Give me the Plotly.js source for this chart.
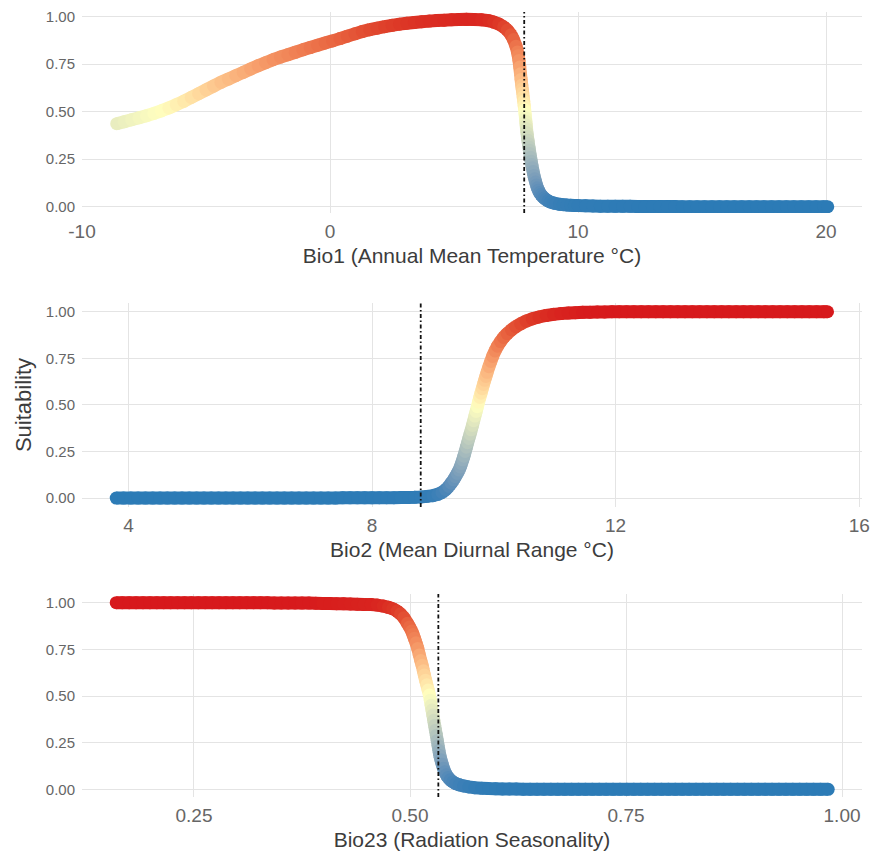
<!DOCTYPE html>
<html>
<head>
<meta charset="utf-8">
<script src="https://cdn.plot.ly/plotly-3.0.1.min.js"></script>
<style>html,body{margin:0;padding:0;background:#fff;}#chart{width:871px;height:854px;}</style>
</head>
<body>
<div id="chart"></div>
<script>
// ---------- DATA ----------
const bio1X = [
  -8.6,-8.3,-8.0,-7.7,-7.4,-7.1,-6.8,-6.5,-6.2,-5.9,
  -5.6,-5.3,-5.0,-4.7,-4.4,-4.1,-3.8,-3.5,-3.2,-2.9,
  -2.6,-2.3,-2.0,-1.7,-1.4,-1.1,-0.8,-0.5,-0.2,0.1,
  0.4,0.7,1.0,1.3,1.6,1.9,2.2,2.5,2.8,3.1,
  3.4,3.7,4.0,4.3,4.6,4.9,5.2,5.5,5.8,6.1,
  6.4,6.6,6.8,7.0,7.15,7.3,7.4,7.5,7.56,7.59,
  7.62,7.65,7.68,7.705,7.73,7.75,7.77,7.79,7.81,7.83,
  7.85,7.865,7.88,7.895,7.91,7.925,7.94,7.96,7.98,8.0,
  8.02,8.04,8.06,8.085,8.11,8.135,8.16,8.19,8.22,8.255,
  8.29,8.325,8.36,8.4,8.45,8.5,8.56,8.63,8.7,8.79,
  8.88,9.0,9.1,9.25,9.4,9.55,9.7,9.85,10.0,10.3,
  10.6,10.9,11.2,11.5,11.8,12.1,12.4,12.7,13.0,13.3,
  13.6,13.9,14.2,14.5,14.8,15.1,15.4,15.7,16.0,16.3,
  16.6,16.9,17.2,17.5,17.8,18.1,18.4,18.7,19.0,19.3,
  19.6,19.9,20.07];
const bio1S = [
  0.437,0.447,0.458,0.468,0.479,0.491,0.505,0.52,0.537,0.555,
  0.575,0.595,0.615,0.635,0.655,0.672,0.69,0.707,0.725,0.742,
  0.758,0.774,0.788,0.80,0.813,0.826,0.838,0.85,0.862,0.873,
  0.885,0.898,0.91,0.922,0.932,0.94,0.948,0.955,0.961,0.966,
  0.97,0.974,0.977,0.98,0.982,0.984,0.986,0.987,0.986,0.984,
  0.979,0.972,0.962,0.947,0.93,0.905,0.88,0.845,0.815,0.795,
  0.77,0.735,0.70,0.67,0.64,0.62,0.60,0.578,0.555,0.532,
  0.51,0.49,0.47,0.45,0.43,0.41,0.39,0.37,0.35,0.332,
  0.315,0.297,0.28,0.26,0.24,0.222,0.205,0.185,0.165,0.147,
  0.13,0.115,0.10,0.087,0.075,0.064,0.055,0.046,0.038,0.031,
  0.025,0.02,0.017,0.013,0.011,0.009,0.008,0.007,0.006,0.005,
  0.004,0.003,0.003,0.002,0.002,0.002,0.001,0.001,0.001,0.001,
  0.001,0.001,0,0,0,0,0,0,0,0,
  0,0,0,0,0,0,0,0,0,0,
  0,0,0];

const bio2X = [
  3.8,3.92,4.04,4.16,4.28,4.4,4.52,4.64,4.76,4.88,
  5.0,5.12,5.24,5.36,5.48,5.6,5.72,5.84,5.96,6.08,
  6.2,6.32,6.44,6.56,6.68,6.8,6.92,7.04,7.16,7.28,
  7.4,7.52,7.64,7.76,7.88,8.0,8.12,8.24,8.36,8.48,
  8.6,8.7,8.8,8.9,9.0,9.08,9.15,9.21,9.26,9.3,
  9.34,9.37,9.4,9.43,9.45,9.47,9.49,9.51,9.53,9.55,
  9.57,9.59,9.61,9.63,9.65,9.67,9.69,9.71,9.73,9.75,
  9.77,9.79,9.81,9.83,9.85,9.87,9.89,9.92,9.95,9.98,
  10.02,10.06,10.11,10.16,10.22,10.29,10.36,10.44,10.53,10.63,
  10.74,10.86,10.98,11.1,11.22,11.34,11.46,11.58,11.7,11.82,
  11.94,12.06,12.18,12.3,12.42,12.54,12.66,12.78,12.9,13.02,
  13.14,13.26,13.38,13.5,13.62,13.74,13.86,13.98,14.1,14.22,
  14.34,14.46,14.58,14.7,14.82,14.94,15.06,15.18,15.3,15.42,
  15.48];
const bio2S = [
  0,0,0,0,0,0,0,0,0,0,
  0,0,0,0,0,0,0,0,0,0,
  0,0,0,0,0,0,0,0,0,0,
  0,0.001,0.001,0.001,0.001,0.001,0.002,0.002,0.002,0.003,
  0.003,0.004,0.006,0.009,0.013,0.02,0.03,0.045,0.062,0.08,
  0.098,0.115,0.132,0.15,0.167,0.185,0.205,0.225,0.25,0.273,
  0.297,0.32,0.343,0.366,0.39,0.415,0.44,0.465,0.49,0.515,
  0.54,0.563,0.587,0.61,0.632,0.653,0.675,0.705,0.733,0.76,
  0.79,0.815,0.84,0.862,0.883,0.903,0.92,0.935,0.95,0.962,
  0.972,0.98,0.986,0.99,0.993,0.995,0.997,0.998,0.999,0.999,
  1,1,1,1,1,1,1,1,1,1,
  1,1,1,1,1,1,1,1,1,1,
  1,1,1,1,1,1,1,1,1,1,
  1];

const bio23X = [
  0.16,0.167,0.175,0.183,0.191,0.199,0.207,0.215,0.223,0.231,
  0.239,0.247,0.255,0.263,0.271,0.279,0.287,0.295,0.303,0.311,
  0.319,0.327,0.335,0.343,0.351,0.359,0.367,0.375,0.383,0.391,
  0.399,0.407,0.415,0.423,0.431,0.439,0.447,0.455,0.462,0.469,
  0.475,0.48,0.485,0.489,0.493,0.497,0.4995,0.502,0.5035,0.505,
  0.507,0.509,0.5108,0.5125,0.514,0.5155,0.5166,0.518,0.5195,0.521,
  0.5224,0.5235,0.5245,0.5255,0.5265,0.5275,0.5285,0.5295,0.5305,0.5315,
  0.5325,0.5335,0.5345,0.5358,0.5372,0.5387,0.5403,0.542,0.544,0.5465,
  0.5495,0.553,0.557,0.562,0.568,0.575,0.583,0.591,0.599,0.607,
  0.615,0.623,0.631,0.639,0.647,0.655,0.663,0.671,0.679,0.687,
  0.695,0.703,0.711,0.719,0.727,0.735,0.743,0.751,0.759,0.767,
  0.775,0.783,0.791,0.799,0.807,0.815,0.823,0.831,0.839,0.847,
  0.855,0.863,0.871,0.879,0.887,0.895,0.903,0.911,0.919,0.927,
  0.935,0.943,0.951,0.959,0.967,0.975,0.984];
const bio23S = [
  1,1,1,1,1,1,1,1,1,1,
  1,1,1,1,1,1,1,1,1,1,
  1,1,1,0.999,0.999,0.999,0.999,0.998,0.998,0.997,
  0.996,0.996,0.995,0.994,0.993,0.992,0.991,0.99,0.987,0.982,
  0.975,0.968,0.955,0.94,0.92,0.89,0.87,0.848,0.83,0.81,
  0.785,0.755,0.72,0.69,0.665,0.635,0.612,0.585,0.56,0.532,
  0.505,0.478,0.45,0.425,0.398,0.37,0.343,0.316,0.29,0.262,
  0.235,0.208,0.182,0.158,0.135,0.113,0.094,0.078,0.064,0.051,
  0.04,0.031,0.024,0.018,0.013,0.009,0.006,0.004,0.003,0.002,
  0.002,0.002,0.001,0.001,0.001,0.001,0.001,0,0,0,
  0,0,0,0,0,0,0,0,0,0,
  0,0,0,0,0,0,0,0,0,0,
  0,0,0,0,0,0,0,0,0,0,
  0,0,0,0,0,0,0];

const thresholds = [7.83, 8.80, 0.5328];

const xTitles = ["Bio1 (Annual Mean Temperature °C)", "Bio2 (Mean Diurnal Range °C)", "Bio23 (Radiation Seasonality)"];
const yTitle = "Suitability";
const xTickVals = [[-10, 0, 10, 20], [4, 8, 12, 16], [0.25, 0.5, 0.75, 1.0]];
const xTickText = [["-10", "0", "10", "20"], ["4", "8", "12", "16"], ["0.25", "0.50", "0.75", "1.00"]];
const yTickVals = [0, 0.25, 0.5, 0.75, 1];
const yTickText = ["0.00", "0.25", "0.50", "0.75", "1.00"];

// ---------- colour mapping (Lab interpolation blue -> pale yellow -> red) ----------
const LOW = "#2C7BB6", MID = "#FFFFBF", HIGH = "#D7191C";
function hexToRgb(h){return [parseInt(h.slice(1,3),16),parseInt(h.slice(3,5),16),parseInt(h.slice(5,7),16)];}
function lin(c){c/=255;return c<=0.04045?c/12.92:Math.pow((c+0.055)/1.055,2.4);}
function rgbToLab(rgb){
  const r=lin(rgb[0]),g=lin(rgb[1]),b=lin(rgb[2]);
  const X=(0.4124*r+0.3576*g+0.1805*b)/0.95047, Y=(0.2126*r+0.7152*g+0.0722*b), Z=(0.0193*r+0.1192*g+0.9505*b)/1.08883;
  const f=t=>t>0.008856?Math.cbrt(t):7.787*t+16/116;
  const fx=f(X),fy=f(Y),fz=f(Z);
  return [116*fy-16,500*(fx-fy),200*(fy-fz)];
}
function labToRgb(lab){
  const fy=(lab[0]+16)/116, fx=fy+lab[1]/500, fz=fy-lab[2]/200;
  const fi=t=>t*t*t>0.008856?t*t*t:(t-16/116)/7.787;
  const X=fi(fx)*0.95047, Y=fi(fy), Z=fi(fz)*1.08883;
  const r=3.2406*X-1.5372*Y-0.4986*Z, g=-0.9689*X+1.8758*Y+0.0415*Z, b=0.0557*X-0.2040*Y+1.0570*Z;
  const gam=c=>{c=c<=0.0031308?12.92*c:1.055*Math.pow(c,1/2.4)-0.055;return Math.round(Math.max(0,Math.min(1,c))*255);};
  return 'rgb('+gam(r)+','+gam(g)+','+gam(b)+')';
}
const labL=rgbToLab(hexToRgb(LOW)), labM=rgbToLab(hexToRgb(MID)), labH=rgbToLab(hexToRgb(HIGH));
function colorAt(t){
  if(!isFinite(t)) t=0;
  t=Math.max(0,Math.min(1,t));
  let a,b,u;
  if(t<=0.5){a=labL;b=labM;u=t/0.5;}else{a=labM;b=labH;u=(t-0.5)/0.5;}
  return labToRgb([a[0]+(b[0]-a[0])*u,a[1]+(b[1]-a[1])*u,a[2]+(b[2]-a[2])*u]);
}

// ---------- traces ----------
const FONT = "Liberation Sans, Arial, Helvetica, sans-serif";
const BAND = 13;
const series = [[bio1X,bio1S],[bio2X,bio2S],[bio23X,bio23S]];
const traces = [];
series.forEach((s,i)=>{
  const xa = i===0?'x':'x'+(i+1), ya = i===0?'y':'y'+(i+1);
  const n = Math.min(s[0].length, s[1].length);
  const xs=s[0].slice(0,n), ys=s[1].slice(0,n);
  // thick connecting segments underneath (fills the gaps between points), grouped by colour
  const q=v=>Math.round(v*60);
  let st=0;
  for(let k=1;k<n;k++){
    if(k===n-1 || q(ys[k])!==q(ys[st])){
      traces.push({type:'scatter',mode:'lines',x:xs.slice(st,k+1),y:ys.slice(st,k+1),xaxis:xa,yaxis:ya,
        line:{color:colorAt((ys[st]+ys[k])/2),width:BAND,simplify:false},hoverinfo:'skip',showlegend:false});
      st=k;
    }
  }
  // the points themselves
  traces.push({
    type:'scatter', mode:'markers', x:xs, y:ys, xaxis:xa, yaxis:ya,
    marker:{size:BAND, color:ys.map(colorAt), line:{width:0}, opacity:1},
    hoverinfo:'x+y', showlegend:false
  });
});

// ---------- layout ----------
const W=871,H=854;
const xDom=[82/W, 862/W];
const yDoms=[[1-213/H,1-12/H],[1-507/H,1-303/H],[1-797/H,1-594/H]];
const xRanges=[[-10.0,21.45],[3.238,16.046],[0.1204,1.0231]];
const yRanges=[[-0.033,1.025],[-0.048,1.047],[-0.041,1.0466]];
const gridColor='#e4e4e4';

const layout={
  width:W,height:H,
  margin:{l:0,r:0,t:0,b:0},
  paper_bgcolor:'#ffffff', plot_bgcolor:'#ffffff',
  font:{family:FONT,color:'#444'},
  showlegend:false,
  shapes:[]
};
for(let i=0;i<3;i++){
  const xk=i===0?'xaxis':'xaxis'+(i+1), yk=i===0?'yaxis':'yaxis'+(i+1);
  const yname=i===0?'y':'y'+(i+1), xname=i===0?'x':'x'+(i+1);
  layout[xk]={
    domain:xDom, range:xRanges[i], anchor:yname,
    tickmode:'array', tickvals:xTickVals[i], ticktext:xTickText[i],
    showgrid:true, gridcolor:gridColor, gridwidth:1, zeroline:false, showline:false, ticks:'',
    tickfont:{family:FONT,size:19,color:'#666666'}, ticklabelstandoff:5,
    title:{text:xTitles[i], font:{family:FONT,size:21,color:'#3c3c3c'}, standoff:7},
    automargin:false, fixedrange:true
  };
  layout[yk]={
    domain:yDoms[i], range:yRanges[i], anchor:xname,
    tickmode:'array', tickvals:yTickVals, ticktext:yTickText,
    showgrid:true, gridcolor:gridColor, gridwidth:1, zeroline:false, showline:false, ticks:'',
    tickfont:{family:FONT,size:15,color:'#666666'}, ticklabelstandoff:6,
    automargin:false, fixedrange:true
  };
  if(i===1){
    layout[yk].title={text:yTitle, font:{family:FONT,size:22,color:'#3c3c3c'}, standoff:8};
  }
  layout.shapes.push({
    type:'line', xref:xname, yref:yname+' domain',
    x0:thresholds[i], x1:thresholds[i], y0:0, y1:1,
    line:{color:'#111111', width:1.8, dash:'4px,2.5px,1.5px,2.5px'}
  });
}

Plotly.newPlot('chart', traces, layout, {displayModeBar:false, staticPlot:true});
</script>
</body>
</html>
